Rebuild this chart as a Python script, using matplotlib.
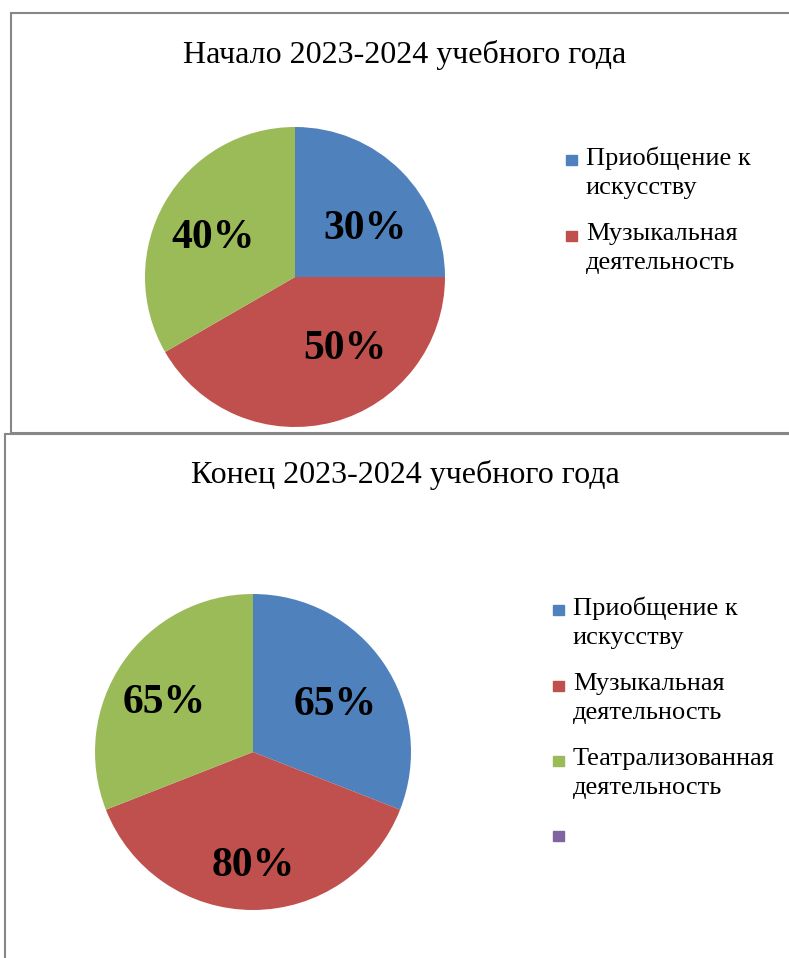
import numpy as np
import matplotlib
matplotlib.use("Agg")
import matplotlib.pyplot as plt
from matplotlib.patches import Patch, Rectangle
from matplotlib.legend_handler import HandlerPatch

plt.rcParams['font.family'] = ['Liberation Serif', 'DejaVu Serif']

# data
categories = ['Приобщение к\nискусству', 'Музыкальная\nдеятельность',
              'Театрализованная\nдеятельность', '']
start_values = [30, 50, 40]
end_values = [65, 80, 65]
start_title = 'Начало 2023-2024 учебного года'
end_title = 'Конец 2023-2024 учебного года'
colors = ['#4F81BD', '#C0504D', '#9BBB59', '#8064A2']

W, H = 789, 958
fig = plt.figure(figsize=(W / 100, H / 100), dpi=100)

LEG_FS = 19


def px_axes(l, t, w, h):
    # axes placed by pixel box (left, top, width, height)
    return fig.add_axes([l / W, 1 - (t + h) / H, w / W, h / H])


def draw_pie(ax, values, rads, shifts):
    total = sum(values)
    wedges, _, autotexts = ax.pie(
        values, colors=colors[:len(values)], startangle=90, counterclock=False,
        autopct=lambda p: '%d%%' % round(p * total / 100),
        radius=1, textprops=dict(fontsize=30, fontweight='bold', color='black'))
    # word-like label placement inside each wedge
    for w, t, r, s in zip(wedges, autotexts, rads, shifts):
        a = np.deg2rad((w.theta1 + w.theta2) / 2 + s)
        t.set_position((r * np.cos(a), r * np.sin(a) - 0.02))
    ax.set_xlim(-1, 1)
    ax.set_ylim(-1, 1)
    ax.set_aspect('equal')
    return wedges


def square_top(legend, orig_handle, xdescent, ydescent, width, height, fontsize):
    # small square next to the first line of a multi-line label
    nlines = orig_handle.get_label().count('\n')
    s = 0.4 * fontsize
    y0 = nlines * 0.6 * fontsize
    return Rectangle((-xdescent, y0), s, s)


def add_legend(n, x, y):
    hs = [Patch(color=colors[i], label=categories[i]) for i in range(n)]
    leg = fig.legend(handles=hs, loc='upper left', bbox_to_anchor=(x / W, 1 - y / H),
                     frameon=False, fontsize=LEG_FS, handlelength=0.45, handleheight=0.7,
                     handletextpad=0.3, labelspacing=0.88, borderpad=0, borderaxespad=0,
                     handler_map={Patch: HandlerPatch(patch_func=square_top)})
    for t in leg.get_texts():
        t.set_linespacing(1.46)
    return leg


# frames
for (l, t, w, h) in [(11, 13, 800, 420), (5, 434, 800, 540)]:
    fig.patches.append(Rectangle((l / W, 1 - (t + h) / H), w / W, h / H,
                                 transform=fig.transFigure, fill=False,
                                 edgecolor='#878787', linewidth=1.5))

# top chart
ax1 = px_axes(145, 127, 300, 300)
draw_pie(ax1, start_values, [0.58, 0.57, 0.61], [-9, 21, 3])
fig.text(405 / W, 1 - 55 / H, start_title, ha='center', va='center', fontsize=23)
add_legend(2, 566, 146)

# bottom chart
ax2 = px_axes(95, 594, 316, 316)
draw_pie(ax2, end_values, [0.61, 0.7, 0.65], [-3, 0, 4])
fig.text(405 / W, 1 - 475 / H, end_title, ha='center', va='center', fontsize=23)
add_legend(4, 553, 596)

fig.savefig('out.png', dpi=100)
